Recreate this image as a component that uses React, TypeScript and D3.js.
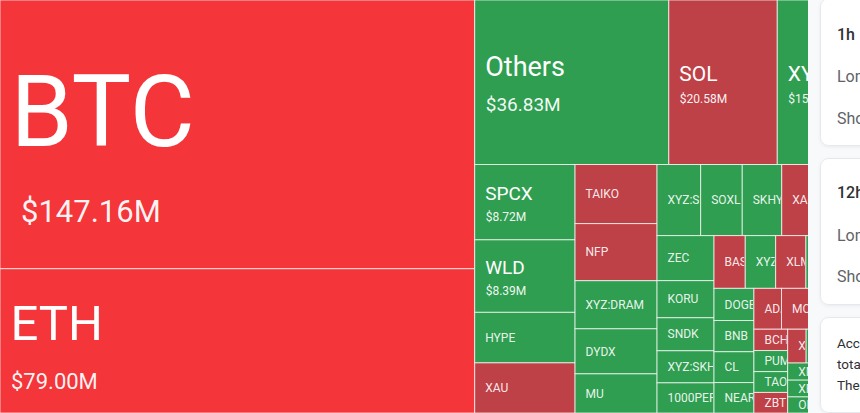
import React from 'react';
import * as d3 from 'd3';

const WIDTH = 860;
const HEIGHT = 413;
const MAP_W = 860; // layout width of the treemap (part of it sits under the side cards)
const VISIBLE_W = 808;

const coins = ['BTC', 'ETH', 'Others', 'SOL', 'XYZ:XYZ100', 'SPCX', 'WLD', 'HYPE', 'XAU', 'TAIKO', 'NFP', 'XYZ:DRAM', 'DYDX', 'MU', 'XYZ:SILVER', 'SOXL', 'SKHYNIX', 'XAG', 'XYZ:NVDA', 'ZEC', 'KORU', 'SNDK', 'XYZ:SKHX', '1000PEPE', 'BASED', 'XYZ:GOLD', 'XLM', 'LINK', 'SUI', 'DOGE', 'BNB', 'CL', 'NEAR', 'ADA', 'MON', 'AVAX', 'LTC', 'BCH', 'PUMP', 'TAO', 'ZBT', 'XRP', 'ENA', 'WIF', 'ARB', 'XMR', 'XPL', 'OP', 'APT', 'TRX', 'PENGU', 'FARTCOIN', 'TIA', 'INJ', 'SEI'];
const liquidations = [147.16, 79.0, 36.83, 20.58, 15.7, 8.72, 8.39, 5.85, 5.8, 5.59, 5.4, 4.55, 4.26, 3.7, 3.58, 3.41, 3.24, 3.22, 3.2, 2.96, 2.44, 2.17, 2.11, 1.98, 1.9, 1.85, 1.84, 1.8, 1.49, 1.48, 1.44, 1.42, 1.4, 1.3, 1.29, 1.22, 1.19, 0.83, 0.82, 0.81, 0.8, 0.72, 0.71, 0.7, 0.69, 0.48, 0.47, 0.45, 0.44, 0.43, 0.42, 0.4, 0.38, 0.36, 0.34];
const dominantSide = ['long', 'long', 'short', 'long', 'short', 'short', 'short', 'short', 'long', 'long', 'long', 'short', 'short', 'short', 'short', 'short', 'short', 'long', 'short', 'short', 'short', 'short', 'short', 'short', 'long', 'short', 'long', 'short', 'short', 'short', 'short', 'short', 'short', 'long', 'long', 'long', 'short', 'long', 'short', 'short', 'long', 'long', 'short', 'short', 'short', 'short', 'short', 'short', 'long', 'short', 'long', 'short', 'long', 'short', 'short'];

const cardTitles = ['1h', '12h'];
const cardRows = ['Long', 'Short'];
const noteLines = ['According', 'total', 'The'];

const GREEN = '#2f9e51';
const RED = '#bf4148';
const RED_BRIGHT = '#f4363b';

// label tiers by value
const tier = d3.scaleThreshold<number, number>().domain([8, 12, 30, 50, 100]).range([0, 1, 2, 3, 4, 5]);
const nameSize = [12, 19, 21, 27, 49, 100];
const valueSize = [0, 12, 12, 19, 22, 31];
const nameDy = [4.2, -2.5, -1.3, -6.3, -1, 11.7];
const valueDy = [0, 19.2, 21, 28.3, 48.4, 88];
const valueDx = [0, 11, 11, 11, 11, 21];

const fmt = d3.format('.2f');

function colorFor(side: string, v: number) {
  if (side === 'short') return GREEN;
  return v >= 50 ? RED_BRIGHT : RED;
}

export default function App() {
  const data = {
    name: 'root',
    children: coins.map((c, i) => ({ name: c, value: liquidations[i], side: dominantSide[i] })),
  };
  const root = d3
    .hierarchy<any>(data)
    .sum((d: any) => (d.children ? 0 : d.value))
    .sort((a, b) => (b.value || 0) - (a.value || 0));
  d3.treemap<any>().size([MAP_W, HEIGHT]).tile(d3.treemapSquarify)(root);
  const leaves = root.leaves() as d3.HierarchyRectangularNode<any>[];

  const cards = [
    { y: -2, h: 147 },
    { y: 158, h: 146 },
    { y: 317, h: 95 },
  ];

  return (
    <svg
      width={WIDTH}
      height={HEIGHT}
      style={{ position: 'absolute', left: 0, top: 0, display: 'block' }}
      fontFamily="Roboto, 'Noto Sans', sans-serif"
    >
      <rect x={0} y={0} width={WIDTH} height={HEIGHT} fill="#f8f9fa" />
      <defs>
        <clipPath id="map-clip">
          <rect x={0} y={0} width={VISIBLE_W} height={HEIGHT} />
        </clipPath>
        {leaves.map((l, i) => (
          <clipPath id={`cell-${i}`} key={i}>
            <rect x={l.x0} y={l.y0} width={Math.max(0, l.x1 - l.x0 - 1)} height={Math.max(0, l.y1 - l.y0)} />
          </clipPath>
        ))}
        <filter id="shadow" x="-10%" y="-10%" width="130%" height="130%">
          <feDropShadow dx="0" dy="1" stdDeviation="1.5" floodColor="#000" floodOpacity="0.06" />
        </filter>
      </defs>
      <g clipPath="url(#map-clip)">
        {leaves.map((l, i) => (
          <rect
            key={i}
            x={l.x0}
            y={l.y0}
            width={l.x1 - l.x0}
            height={l.y1 - l.y0}
            fill={colorFor(l.data.side, l.data.value)}
            stroke="rgba(255,255,255,0.7)"
            strokeWidth={1}
          />
        ))}
        {leaves.map((l, i) => {
          const w = l.x1 - l.x0;
          const h = l.y1 - l.y0;
          if (h < 14 || w < 8) return null;
          const t = tier(l.data.value);
          const cy = (l.y0 + l.y1) / 2;
          return (
            <g key={i} clipPath={`url(#cell-${i})`} fill="#fff">
              <text x={l.x0 + 10.5} y={cy + nameDy[t]} fontSize={nameSize[t]} fillOpacity={t === 0 ? 0.9 : 1}>
                {l.data.name}
              </text>
              {t > 0 && (
                <text x={l.x0 + valueDx[t]} y={cy + valueDy[t]} fontSize={valueSize[t]} fillOpacity={0.95}>
                  {'$' + fmt(l.data.value) + 'M'}
                </text>
              )}
            </g>
          );
        })}
      </g>
      {cards.map((c, i) => (
        <rect
          key={i}
          x={820.5}
          y={c.y + 0.5}
          width={80}
          height={c.h}
          rx={8}
          fill="#fff"
          stroke="#e6e8eb"
          filter="url(#shadow)"
        />
      ))}
      {cardTitles.map((t, i) => (
        <g key={t}>
          <text x={837} y={i === 0 ? 39.5 : 197.5} fontSize={16} fontWeight={500} fill="#303133">
            {t}
          </text>
          {cardRows.map((r, j) => (
            <text key={r} x={837} y={(i === 0 ? 81.5 : 241) + j * (i === 0 ? 42.5 : 41)} fontSize={16} fill="#5f6368">
              {r}
            </text>
          ))}
        </g>
      ))}
      {noteLines.map((n, i) => (
        <text key={n} x={837} y={348.3 + i * 21} fontSize={13.5} fill="#303133">
          {n}
        </text>
      ))}
    </svg>
  );
}
